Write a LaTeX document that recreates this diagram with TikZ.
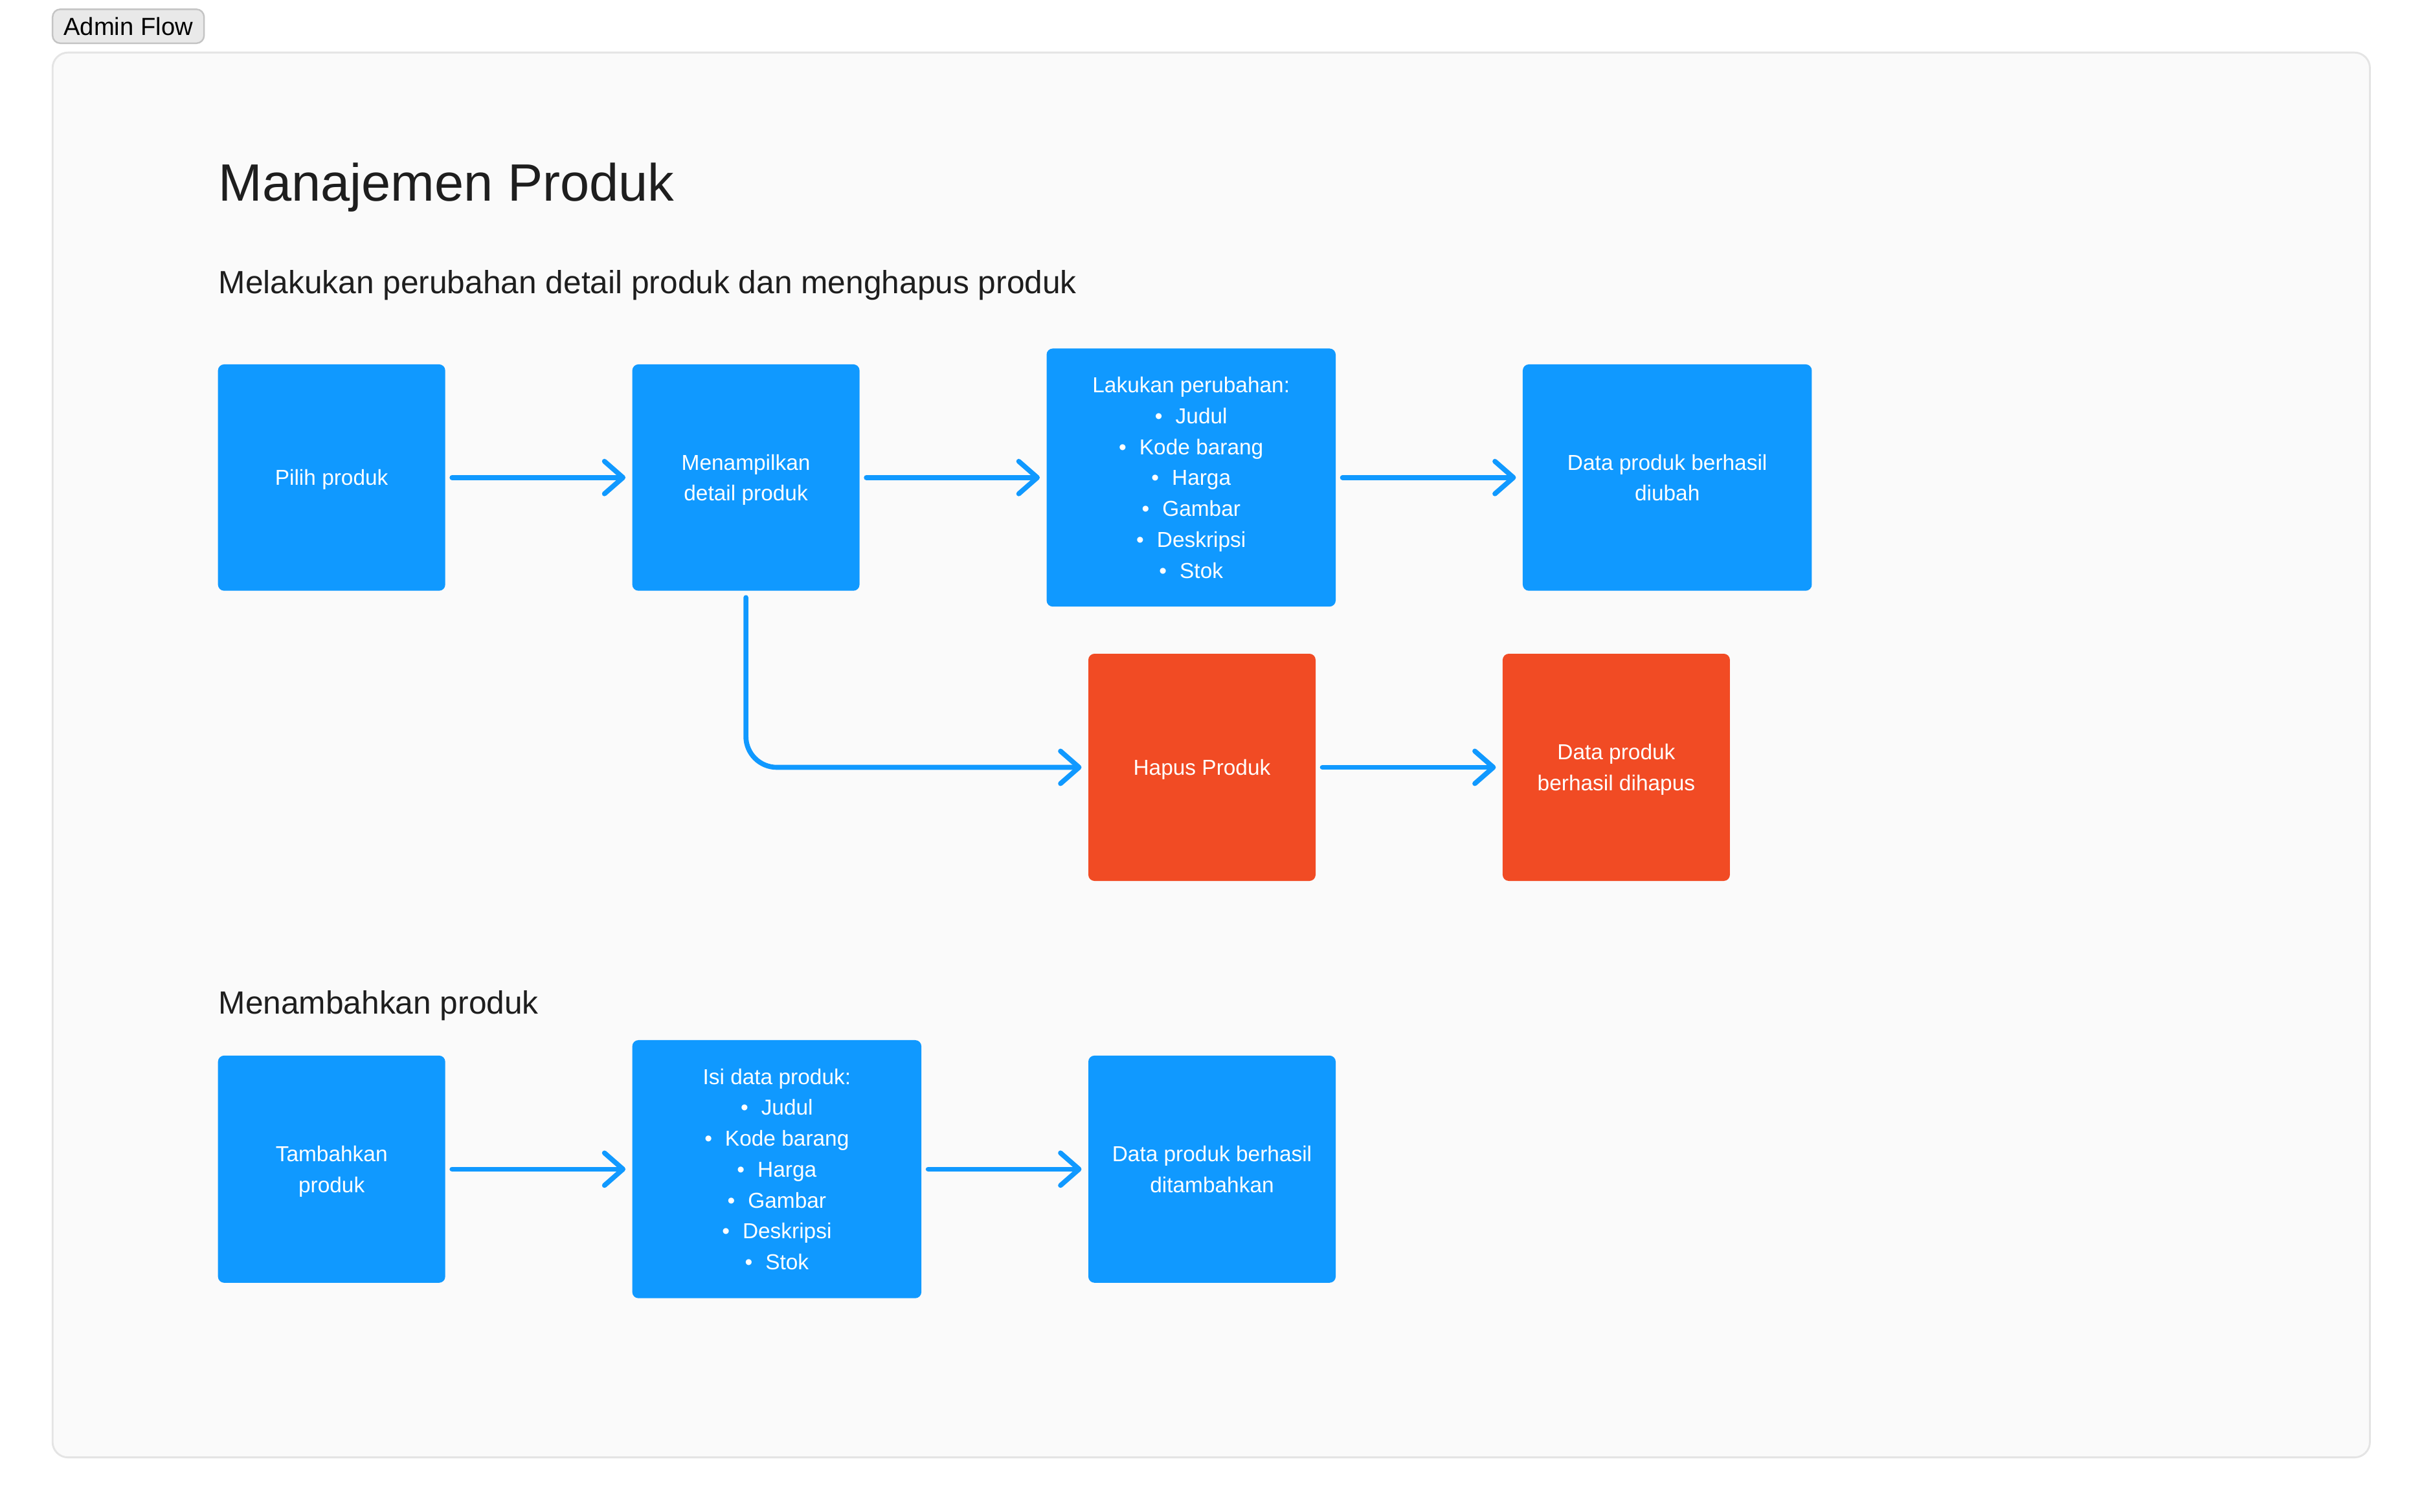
\documentclass[tikz,border=0pt]{standalone}
\usepackage{fontspec}
\setmainfont{Liberation Sans}
\usetikzlibrary{arrows.meta}

\definecolor{cblue}{HTML}{1099FF}
\definecolor{cred}{HTML}{F14B24}
\definecolor{ink}{HTML}{1E1E1E}
\definecolor{panel}{HTML}{FAFAFA}
\definecolor{panelline}{HTML}{E4E4E4}
\definecolor{btnfill}{HTML}{E9E9E9}
\definecolor{btnline}{HTML}{C4C4C4}

\tikzset{
  card/.style={rectangle, rounded corners=2pt, fill=cblue, text=white,
    font=\fontsize{7}{10}\selectfont, align=center, inner sep=0pt,
    text depth=0pt, minimum width=73.5pt, minimum height=73.25pt},
  widecard/.style={card, minimum width=93.5pt, minimum height=83.5pt},
  redcard/.style={card, fill=cred, minimum height=73.5pt},
  heading/.style={anchor=base west, inner sep=0pt, text=ink},
  flow/.style={draw=cblue, line width=1.6pt, line cap=round,
    shorten <=2pt, shorten >=2pt,
    -{Straight Barb[length=6pt, width=10.5pt, round]}},
}

\newcommand{\itm}[1]{\textbullet\hspace{0.6em}#1}

\begin{document}
\begin{tikzpicture}[x=0.5pt, y=-0.5pt]
  % page and panel
  \useasboundingbox (0,0) rectangle (1568,978);
  \fill[white] (0,0) rectangle (1568,978);
  \draw[panelline, fill=panel, line width=0.6pt, rounded corners=5pt]
    (34,34) rectangle (1533,943);

  % tab label
  \node[rectangle, rounded corners=2.5pt, draw=btnline, fill=btnfill,
    line width=0.5pt, minimum width=49pt, minimum height=11pt, inner sep=0pt,
    font=\fontsize{8}{9.6}\selectfont, text=black] (tab) at (83,17) {Admin Flow};

  % headings
  \node[heading, font=\fontsize{17}{20}\selectfont] (title) at (141,130) {Manajemen Produk};
  \node[heading, font=\fontsize{10.4}{12.5}\selectfont] (sub1) at (141,190)
    {Melakukan perubahan detail produk dan menghapus produk};
  \node[heading, font=\fontsize{10.4}{12.5}\selectfont] (sub2) at (141,656)
    {Menambahkan produk};

  % edit / delete flow
  \node[card] (pilih) at (214.5,309) {Pilih produk};
  \node[card] (tampil) at (482.5,309) {Menampilkan\\detail produk};
  \node[widecard] (ubah) at (770.5,309) {Lakukan perubahan:\\\itm{Judul}\\\itm{Kode barang}\\\itm{Harga}\\\itm{Gambar}\\\itm{Deskripsi}\\\itm{Stok}};
  \node[card, minimum width=93.5pt] (diubah) at (1078.5,309) {Data produk berhasil\\diubah};
  \node[redcard] (hapus) at (777.5,496.5) {Hapus Produk};
  \node[redcard] (dihapus) at (1045.5,496.5) {Data produk\\berhasil dihapus};

  \draw[flow] (pilih) -- (tampil);
  \draw[flow] (tampil) -- (ubah);
  \draw[flow] (ubah) -- (diubah);
  \draw[flow, rounded corners=10pt] (tampil.south) |- (hapus.west);
  \draw[flow] (hapus) -- (dihapus);

  % add flow
  \node[card, minimum height=73.5pt] (tambah) at (214.5,756.5) {Tambahkan\\produk};
  \node[widecard] (isi) at (502.5,756.5) {Isi data produk:\\\itm{Judul}\\\itm{Kode barang}\\\itm{Harga}\\\itm{Gambar}\\\itm{Deskripsi}\\\itm{Stok}};
  \node[card, minimum width=80pt, minimum height=73.5pt] (tambahok) at (784,756.5) {Data produk berhasil\\ditambahkan};

  \draw[flow] (tambah) -- (isi);
  \draw[flow] (isi) -- (tambahok);
\end{tikzpicture}
\end{document}
